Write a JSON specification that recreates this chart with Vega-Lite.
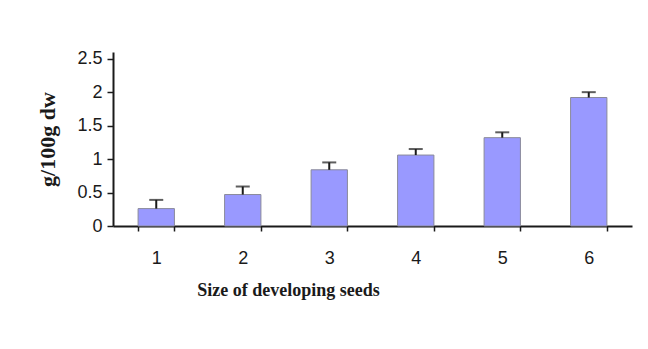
{
  "$schema": "https://vega.github.io/schema/vega-lite/v6.json",
  "autosize": {"type": "none"},
  "width": 519,
  "height": 174,
  "padding": {"left": 113, "top": 52, "right": 16, "bottom": 123},
  "background": "white",
  "config": {
    "view": {"stroke": null},
    "axisY": {
      "titleFont": "Liberation Serif", "titleFontSize": 22, "titleFontWeight": "bold", "titleColor": "#1a1a1a",
      "titlePadding": 17,
      "grid": false,
      "labelFont": "Liberation Sans", "labelFontSize": 18, "labelColor": "#1a1a1a",
      "labelPadding": 5, "labelOverlap": false,
      "tickSize": 6, "tickColor": "#1a1a1a", "tickWidth": 1.5,
      "domainColor": "#1a1a1a", "domainWidth": 2
    }
  },
  "data": {"values": [
    {"size": "1", "value": 0.26, "upper": 0.39},
    {"size": "2", "value": 0.47, "upper": 0.59},
    {"size": "3", "value": 0.84, "upper": 0.95},
    {"size": "4", "value": 1.06, "upper": 1.15},
    {"size": "5", "value": 1.32, "upper": 1.40},
    {"size": "6", "value": 1.92, "upper": 2.00}
  ]},
  "encoding": {
    "x": {
      "field": "size", "type": "ordinal",
      "scale": {"paddingInner": 0.58, "paddingOuter": 0.29},
      "axis": {
        "title": "Size of developing seeds",
        "titleFont": "Liberation Serif", "titleFontSize": 18, "titleFontWeight": "bold", "titleColor": "#1a1a1a",
        "titlePadding": 14, "titleX": 175, "titleAlign": "center",
        "labelFont": "Liberation Sans", "labelFontSize": 18, "labelColor": "#1a1a1a", "labelAngle": 0,
        "labelPadding": 18,
        "tickBand": "extent", "tickSize": 5, "tickColor": "#1a1a1a", "tickWidth": 1.5,
        "domainColor": "#1a1a1a", "domainWidth": 2
      }
    }
  },
  "layer": [
    {
      "mark": {"type": "bar", "color": "#9999FF", "stroke": "#8a8a9a", "strokeWidth": 1},
      "encoding": {
        "y": {
          "field": "value", "type": "quantitative",
          "scale": {"domain": [0, 2.5]},
          "axis": {"title": "g/100g dw", "values": [0, 0.5, 1, 1.5, 2, 2.5], "format": "~g"}
        }
      }
    },
    {
      "mark": {"type": "rule", "color": "#1a1a1a", "strokeWidth": 2},
      "encoding": {
        "y": {"field": "value", "type": "quantitative",
          "axis": {"title": "g/100g dw", "values": [0, 0.5, 1, 1.5, 2, 2.5], "format": "~g"}},
        "y2": {"field": "upper"}
      }
    },
    {
      "mark": {"type": "tick", "color": "#1a1a1a", "size": 14, "thickness": 2},
      "encoding": {
        "y": {"field": "upper", "type": "quantitative",
          "axis": {"title": "g/100g dw", "values": [0, 0.5, 1, 1.5, 2, 2.5], "format": "~g"}}
      }
    }
  ]
}
